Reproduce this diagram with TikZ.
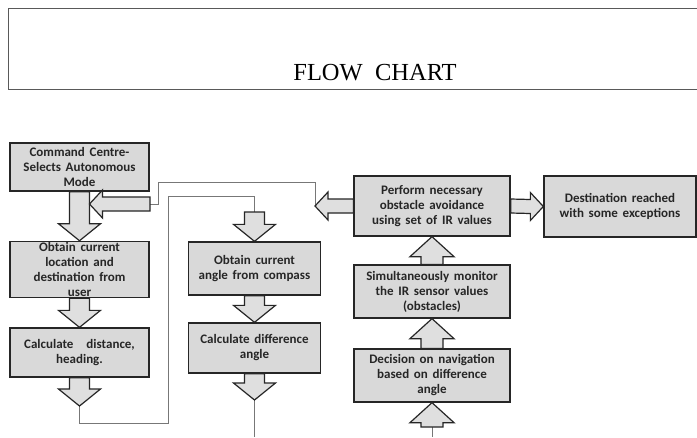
\documentclass[tikz,border=0pt]{standalone}
\usepackage{fontspec}
\setmainfont{Carlito}[WordSpace=1.6]
\newfontfamily\titlefont{Liberation Serif}
\usetikzlibrary{calc}
\usetikzlibrary{positioning}

\definecolor{boxgray}{HTML}{D9D9D9}
\definecolor{arrgray}{HTML}{DFDFDF}
\definecolor{linegray}{HTML}{777777}
\definecolor{textgray}{HTML}{262626}

\tikzset{
  stepbox/.style={draw=black!85, line width=1.3pt, fill=boxgray, align=center, inner sep=1pt,
    text=textgray, font=\bfseries\fontsize{13}{15}\selectfont},
  fatarrow/.style={draw=black!85, line width=1.2pt, fill=arrgray, line join=miter},
  link/.style={draw=linegray, line width=0.9pt}
}

% fat block arrows, #1 = tail point, #2 = tip point
\newcommand{\fatdown}[2]{%
  \draw[fatarrow] ($(#1)+(-10,0)$) -- ($(#2)+(-10,-17)$) -- ($(#2)+(-21,-17)$) -- (#2)
    -- ($(#2)+(21,-17)$) -- ($(#2)+(10,-17)$) -- ($(#1)+(10,0)$) -- cycle;}
\newcommand{\fatup}[2]{%
  \draw[fatarrow] ($(#1)+(-11,0)$) -- ($(#2)+(-11,20)$) -- ($(#2)+(-22,20)$) -- (#2)
    -- ($(#2)+(22,20)$) -- ($(#2)+(11,20)$) -- ($(#1)+(11,0)$) -- cycle;}
\newcommand{\fatleft}[2]{%
  \draw[fatarrow] ($(#1)+(0,-7)$) -- ($(#2)+(13,-7)$) -- ($(#2)+(13,-14)$) -- (#2)
    -- ($(#2)+(13,14)$) -- ($(#2)+(13,7)$) -- ($(#1)+(0,7)$) -- cycle;}
\newcommand{\fatright}[2]{%
  \draw[fatarrow] ($(#1)+(0,-7)$) -- ($(#2)+(-13,-7)$) -- ($(#2)+(-13,-14)$) -- (#2)
    -- ($(#2)+(-13,14)$) -- ($(#2)+(-13,7)$) -- ($(#1)+(0,7)$) -- cycle;}

\begin{document}
\begin{tikzpicture}[x=1pt, y=-1pt]
  \clip (0,0) rectangle (697,437);
  \fill[white] (0,0) rectangle (697,437);

  % title frame
  \draw[draw=black!65, line width=1pt] (8,8) rectangle (705,89);
  \node[anchor=base, font=\titlefont\fontsize{24.5}{28}\selectfont] (title) at (375,80) {FLOW\ \ CHART};

  % boxes
  \node[stepbox, minimum width=139pt, minimum height=48pt] (cmd) at (79.5,167) {Command Centre-\\Selects Autonomous\\Mode};
  \node[stepbox, minimum width=139pt, minimum height=55pt] (loc) at (79.5,269.5) {Obtain current\\location and\\destination from\\user};
  \node[stepbox, minimum width=139pt, minimum height=49pt] (dist) at (79.5,352.5) {Calculate\quad distance,\\heading.};
  \node[stepbox, minimum width=132pt, minimum height=53pt] (ang) at (254.5,268.5) {Obtain current\\angle from compass};
  \node[stepbox, minimum width=132pt, minimum height=50pt] (diff) at (254.5,348) {Calculate difference\\angle};
  \node[stepbox, minimum width=156pt, minimum height=60pt] (avoid) at (432,206) {Perform necessary\\obstacle avoidance\\using set of IR values};
  \node[stepbox, minimum width=152pt, minimum height=61pt] (dest) at (620,206.5) {Destination reached\\with some exceptions};
  \node[stepbox, minimum width=156pt, minimum height=53pt] (mon) at (432,291.5) {Simultaneously monitor\\the IR sensor values\\(obstacles)};
  \node[stepbox, minimum width=156pt, minimum height=53pt] (dec) at (432,375.5) {Decision on navigation\\based on difference\\angle};

  % free ends of the links
  \coordinate (disttip) at (79.5,406);
  \coordinate (angtail) at (254.5,212);
  \coordinate (difftip) at (254.5,400);
  \coordinate (dectail) at (432,427);
  \coordinate (avoidtip) at (315,206);
  \coordinate (cmdtail) at (150,204);
  \coordinate (cmdtip) at (89.5,204);

  % thin links
  \draw[link] (disttip) -- ++(0,17) -| (168,196) -| (angtail);
  \draw[link] (difftip) -- (254.5,437);
  \draw[link] (dectail) -- (432,437);
  \draw[link] (avoidtip) |- (158,182) |- (cmdtail);

  % block arrows
  \fatdown{cmd.south}{loc.north}
  \fatdown{loc.south}{dist.north}
  \fatdown{dist.south}{disttip}
  \fatdown{angtail}{ang.north}
  \fatdown{ang.south}{diff.north}
  \fatdown{diff.south}{difftip}
  \fatup{dectail}{dec.south}
  \fatup{dec.north}{mon.south}
  \fatup{mon.north}{avoid.south}
  \fatright{avoid.east}{dest.west}
  \fatleft{avoid.west}{avoidtip}
  \fatleft{cmdtail}{cmdtip}
\end{tikzpicture}
\end{document}
